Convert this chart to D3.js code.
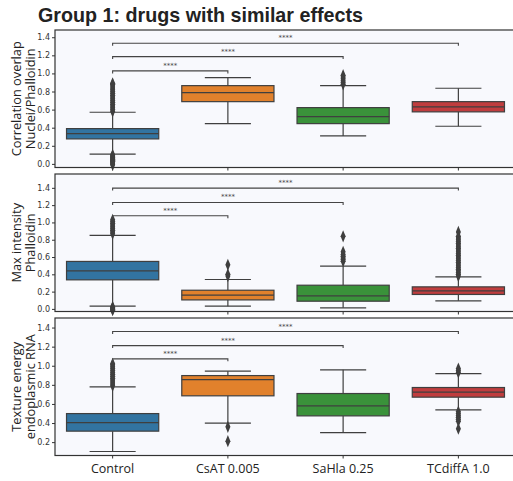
<!DOCTYPE html>
<html>
<head>
<meta charset="utf-8">
<script src="https://cdn.jsdelivr.net/npm/d3@7"></script>
<style>
  body { margin: 0; background: #fff; }
  svg { display: block; font-family: "Open Sans", sans-serif; }
</style>
</head>
<body>
<div id="chart"></div>
<script>
const categories = ["Control", "CsAT 0.005", "SaHla 0.25", "TCdiffA 1.0"];

// box stats per category: [whisker low, q1, median, q3, whisker high]
const corrStats = [
  [0.107, 0.276, 0.335, 0.39, 0.571],
  [0.445, 0.688, 0.788, 0.865, 0.954],
  [0.309, 0.445, 0.523, 0.622, 0.865],
  [0.416, 0.575, 0.63, 0.688, 0.836]
];
const corrOutliers = [
  [0.58, 0.60, 0.62, 0.64, 0.66, 0.68, 0.70, 0.72, 0.74, 0.76, 0.78, 0.80, 0.82, 0.84, 0.86, 0.88, 0.89,
   0.10, 0.09, 0.08, 0.07, 0.06, 0.05, 0.04, 0.03, 0.02, 0.01, 0.0, -0.01],
  [],
  [0.88, 0.90, 0.92, 0.94, 0.96, 0.98],
  []
];

const maxStats = [
  [0.031, 0.336, 0.44, 0.549, 0.85],
  [0.031, 0.104, 0.159, 0.216, 0.34],
  [0.012, 0.089, 0.15, 0.274, 0.494],
  [0.093, 0.167, 0.208, 0.255, 0.37]
];
const maxOutliers = [
  [0.87, 0.89, 0.91, 0.93, 0.95, 0.97, 0.99, 1.01, 1.03,
   0.025, 0.015, 0.005, -0.005, -0.015],
  [0.38, 0.40, 0.51],
  [0.55, 0.57, 0.59, 0.61, 0.63, 0.66, 0.84],
  [0.38, 0.40, 0.42, 0.44, 0.46, 0.48, 0.50, 0.52, 0.54, 0.56, 0.58, 0.60, 0.62, 0.64, 0.66, 0.68,
   0.70, 0.72, 0.74, 0.76, 0.78, 0.80, 0.82, 0.84, 0.89]
];

const textureStats = [
  [0.102, 0.315, 0.405, 0.499, 0.779],
  [0.399, 0.685, 0.855, 0.897, 0.943],
  [0.30, 0.475, 0.58, 0.709, 0.957],
  [0.538, 0.671, 0.724, 0.772, 0.918]
];
const textureOutliers = [
  [0.79, 0.81, 0.83, 0.85, 0.87, 0.89, 0.91, 0.93, 0.95, 0.97, 0.99, 1.01, 1.02],
  [0.36, 0.21],
  [],
  [0.93, 0.95, 0.97, 0.52, 0.50, 0.48, 0.46, 0.44, 0.42, 0.34]
];

// significance bracket heights (Control vs CsAT, SaHla, TCdiffA)
const corrBrackets = [1.028, 1.186, 1.334];
const maxBrackets = [1.077, 1.231, 1.397];
const textureBrackets = [1.072, 1.211, 1.358];
const sigLabels = ["****", "****", "****"];

const corrTicks = [0.0, 0.2, 0.4, 0.6, 0.8, 1.0, 1.2, 1.4];
const maxTicks = [0.0, 0.2, 0.4, 0.6, 0.8, 1.0, 1.2, 1.4];
const textureTicks = [0.2, 0.4, 0.6, 0.8, 1.0, 1.2, 1.4];

const palette = ["#3274a1", "#e1812c", "#3a923a", "#c03d3e"];

const panels = [
  { label: ["Correlation overlap", "Nuclei/Phalloidin"], stats: corrStats, outliers: corrOutliers,
    brackets: corrBrackets, ticks: corrTicks, domain: [-0.04, 1.48] },
  { label: ["Max intensity", "Phalloidin"], stats: maxStats, outliers: maxOutliers,
    brackets: maxBrackets, ticks: maxTicks, domain: [-0.03, 1.56] },
  { label: ["Texture energy", "endoplasmic RNA"], stats: textureStats, outliers: textureOutliers,
    brackets: textureBrackets, ticks: textureTicks, domain: [0.06, 1.50] }
];

const width = 513, height = 481;
const left = 55, right = 516;
const panelTop = [30, 174, 318];
const panelH = 137.5;
const edge = "#3f3f3f";

const svg = d3.select("#chart").append("svg")
  .attr("width", width)
  .attr("height", height);

svg.append("text")
  .attr("x", 38).attr("y", 22)
  .attr("font-family", "Liberation Sans, Arial, sans-serif")
  .attr("font-weight", "bold")
  .attr("font-size", 19.7)
  .attr("fill", "#222")
  .text("Group 1: drugs with similar effects");

const x = d3.scaleBand().domain(categories).range([left, right]).padding(0);
const boxW = x.bandwidth() * 0.8;
const capW = boxW / 2;
const diamond = d3.symbol().type(d3.symbolDiamond).size(22);

panels.forEach((p, pi) => {
  const top = panelTop[pi];
  const y = d3.scaleLinear().domain(p.domain).range([top + panelH, top]);
  const g = svg.append("g");

  g.append("rect")
    .attr("x", left).attr("y", top)
    .attr("width", right - left).attr("height", panelH)
    .attr("fill", "#f8f9fd");

  // y axis
  const yAxis = g.append("g")
    .attr("transform", `translate(${left},0)`)
    .call(d3.axisLeft(y).tickValues(p.ticks).tickFormat(d3.format(".1f")).tickSize(3).tickPadding(2));
  yAxis.select(".domain").remove();
  yAxis.selectAll("text").attr("font-size", 8).attr("fill", "#333").attr("font-family", "DejaVu Sans, sans-serif");
  yAxis.selectAll("line").attr("stroke", "#333");

  // x axis ticks
  const xAxis = g.append("g")
    .attr("transform", `translate(0,${top + panelH})`)
    .call(d3.axisBottom(x).tickSize(3).tickFormat(pi === 2 ? null : ""));
  xAxis.select(".domain").remove();
  xAxis.selectAll("line").attr("stroke", "#333");
  xAxis.selectAll("text").attr("font-size", 12.5).attr("fill", "#222")
    .attr("font-family", "Open Sans, sans-serif").attr("dy", "0.95em");

  // y label
  const cy = top + panelH / 2;
  p.label.forEach((t, li) => {
    g.append("text")
      .attr("transform", `translate(${21 + li * 13.5},${cy}) rotate(-90)`)
      .attr("text-anchor", "middle")
      .attr("font-size", 12.8)
      .attr("fill", "#222")
      .text(t);
  });

  // boxes
  categories.forEach((c, ci) => {
    const [lo, q1, med, q3, hi] = p.stats[ci];
    const cx = x(c) + x.bandwidth() / 2;
    g.append("line").attr("x1", cx).attr("x2", cx).attr("y1", y(q3)).attr("y2", y(hi))
      .attr("stroke", edge).attr("stroke-width", 1.2);
    g.append("line").attr("x1", cx).attr("x2", cx).attr("y1", y(q1)).attr("y2", y(lo))
      .attr("stroke", edge).attr("stroke-width", 1.2);
    [lo, hi].forEach(v => {
      g.append("line").attr("x1", cx - capW / 2).attr("x2", cx + capW / 2)
        .attr("y1", y(v)).attr("y2", y(v))
        .attr("stroke", edge).attr("stroke-width", 1.2);
    });
    g.append("rect")
      .attr("x", cx - boxW / 2).attr("y", y(q3))
      .attr("width", boxW).attr("height", y(q1) - y(q3))
      .attr("fill", palette[ci]).attr("stroke", edge).attr("stroke-width", 1.2);
    g.append("line").attr("x1", cx - boxW / 2).attr("x2", cx + boxW / 2)
      .attr("y1", y(med)).attr("y2", y(med))
      .attr("stroke", edge).attr("stroke-width", 1.2);
    g.selectAll(null).data(p.outliers[ci]).join("path")
      .attr("d", diamond)
      .attr("transform", d => `translate(${cx},${y(d)}) scale(1,1.4)`)
      .attr("fill", edge);
  });

  // significance brackets
  const x0 = x(categories[0]) + x.bandwidth() / 2;
  p.brackets.forEach((b, bi) => {
    const x1 = x(categories[bi + 1]) + x.bandwidth() / 2;
    const yb = y(b);
    g.append("path")
      .attr("d", `M${x0},${yb + 2.5}V${yb}H${x1}V${yb + 2.5}`)
      .attr("fill", "none")
      .attr("stroke", "#444")
      .attr("stroke-width", 1.1);
    g.append("text")
      .attr("x", (x0 + x1) / 2).attr("y", yb - 3)
      .attr("text-anchor", "middle")
      .attr("font-size", 7)
      .attr("fill", "#444")
      .attr("font-family", "DejaVu Sans, sans-serif")
      .text(sigLabels[bi]);
  });

  // frame
  g.append("rect")
    .attr("x", left).attr("y", top)
    .attr("width", right - left).attr("height", panelH)
    .attr("fill", "none").attr("stroke", "#333").attr("stroke-width", 1.2);
});
</script>
</body>
</html>
